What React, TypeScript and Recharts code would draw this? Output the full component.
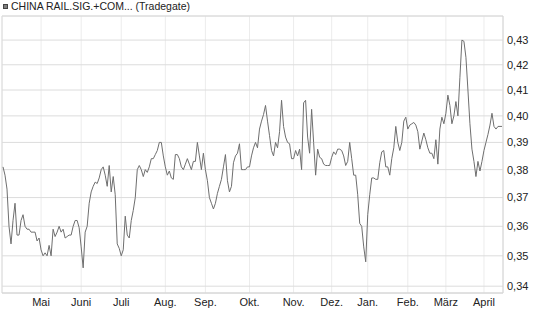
import React from "react";
import {
  LineChart,
  Line,
  XAxis,
  YAxis,
  CartesianGrid,
  ReferenceLine,
} from "recharts";

// daily closes, one per trading day (April to April)
const PRICES = [
  0.381, 0.378, 0.373, 0.36, 0.354, 0.362, 0.368, 0.357, 0.357, 0.362,
  0.364, 0.36, 0.359, 0.359, 0.358, 0.358, 0.358, 0.355, 0.356, 0.352,
  0.35, 0.351, 0.35, 0.3535, 0.35, 0.359, 0.3565, 0.358, 0.36, 0.358,
  0.359, 0.356, 0.3565, 0.357, 0.357, 0.36, 0.362, 0.362, 0.3595, 0.353,
  0.346, 0.358, 0.36, 0.368, 0.372, 0.374, 0.3755, 0.375, 0.377, 0.38,
  0.381, 0.378, 0.374, 0.3815, 0.372, 0.3775, 0.371, 0.354, 0.3525, 0.35,
  0.352, 0.3635, 0.357, 0.356, 0.362, 0.3655, 0.37, 0.38, 0.3815, 0.38,
  0.3775, 0.38, 0.379, 0.381, 0.384, 0.384, 0.3855, 0.387, 0.39, 0.39,
  0.385, 0.381, 0.378, 0.3795, 0.377, 0.3765, 0.3855, 0.3855, 0.384, 0.381,
  0.38, 0.382, 0.384, 0.382, 0.38, 0.383, 0.383, 0.39, 0.385, 0.38,
  0.386, 0.38, 0.376, 0.37, 0.368, 0.366, 0.368, 0.3715, 0.374, 0.3765,
  0.381, 0.3855, 0.376, 0.372, 0.374, 0.3825, 0.385, 0.386, 0.3895, 0.38,
  0.38, 0.38, 0.381, 0.381, 0.385, 0.388, 0.39, 0.388, 0.395, 0.398,
  0.4005, 0.404, 0.398, 0.3925, 0.387, 0.385, 0.39, 0.388, 0.394, 0.406,
  0.396, 0.392, 0.39, 0.3895, 0.384, 0.384, 0.387, 0.385, 0.3875, 0.38,
  0.405, 0.406, 0.392, 0.386, 0.4025, 0.39, 0.378, 0.3875, 0.3845, 0.384,
  0.382, 0.3815, 0.3815, 0.3815, 0.3845, 0.3865, 0.3855, 0.3875, 0.3875, 0.387,
  0.385, 0.3815, 0.383, 0.39, 0.384, 0.378, 0.378, 0.371, 0.361, 0.36,
  0.353, 0.348, 0.364, 0.371, 0.377, 0.377, 0.3765, 0.3765, 0.3825, 0.3865,
  0.387, 0.381, 0.381, 0.378, 0.384, 0.388, 0.396, 0.39, 0.387, 0.39,
  0.398, 0.3995, 0.395, 0.3965, 0.397, 0.3975, 0.3965, 0.394, 0.3875, 0.3905,
  0.3935, 0.391, 0.388, 0.386, 0.386, 0.384, 0.391, 0.382, 0.395, 0.3995,
  0.397, 0.401, 0.408, 0.404, 0.397, 0.4, 0.4055, 0.4, 0.415, 0.43,
  0.4295, 0.423, 0.41, 0.397, 0.3875, 0.383, 0.3775, 0.383, 0.3795, 0.383,
  0.387, 0.39, 0.393, 0.3965, 0.401, 0.396, 0.395, 0.396, 0.396, 0.396,
];

const MONTH_LABELS = [
  "Mai", "Juni", "Juli", "Aug.", "Sep.", "Okt.",
  "Nov.", "Dez.", "Jan.", "Feb.", "März", "April",
];
// index of the trading day where each month starts
const MONTH_START = [19, 39, 59, 81, 101, 123, 145, 164, 182, 202, 221, 240];

const Y_TICKS = [0.34, 0.35, 0.36, 0.37, 0.38, 0.39, 0.4, 0.41, 0.42, 0.43];

const data = PRICES.map((p, i) => ({ day: i, price: p }));

const FONT = "'Liberation Sans', Arial, sans-serif";

const monthName = (v: number) => {
  const k = MONTH_START.indexOf(v);
  return k >= 0 ? MONTH_LABELS[k] : "";
};

export default function App() {
  return (
    <div
      style={{
        position: "absolute",
        left: 0,
        top: 0,
        width: 545,
        height: 327,
        background: "#fff",
        fontFamily: FONT,
      }}
    >
      <div
        style={{
          position: "absolute",
          left: 3,
          top: 0,
          height: 13,
          lineHeight: "13px",
          fontSize: 10.5,
          color: "#222",
          display: "flex",
          alignItems: "center",
          whiteSpace: "nowrap",
        }}
      >
        <span
          style={{
            display: "inline-block",
            width: 3,
            height: 3,
            background: "#808080",
            border: "1px solid #444",
            marginRight: 3,
          }}
        />
        CHINA RAIL.SIG.+COM... (Tradegate)
      </div>
      <LineChart
        width={545}
        height={327}
        data={data}
        margin={{ top: 16, right: 0, bottom: 0, left: 2 }}
      >
        <CartesianGrid horizontal={false} stroke="#ececec" />
        <CartesianGrid vertical={false} stroke="#dcdcdc" />
        <ReferenceLine x={-0.5} stroke="#dcdcdc" />
        <ReferenceLine y={0.44} stroke="#dcdcdc" />
        <XAxis
          dataKey="day"
          type="number"
          domain={[-0.5, PRICES.length - 0.5]}
          ticks={MONTH_START}
          interval={0}
          tickFormatter={monthName}
          height={34}
          tickLine={false}
          tickSize={3}
          tickMargin={2}
          axisLine={{ stroke: "#d4d4d4" }}
          tick={{ fontSize: 11, fill: "#222", fontFamily: FONT }}
        />
        <YAxis
          orientation="right"
          type="number"
          scale="log"
          domain={[0.3378, 0.44]}
          allowDataOverflow
          ticks={Y_TICKS}
          interval={0}
          tickFormatter={(v: number) => v.toFixed(2).replace(".", ",")}
          width={42}
          tickLine={false}
          tickSize={3}
          tickMargin={1}
          axisLine={{ stroke: "#d4d4d4" }}
          tick={{ fontSize: 11, fill: "#222", fontFamily: FONT }}
        />
        <Line
          type="linear"
          dataKey="price"
          stroke="#6e6e6e"
          strokeWidth={1}
          dot={false}
          isAnimationActive={false}
        />
      </LineChart>
    </div>
  );
}
